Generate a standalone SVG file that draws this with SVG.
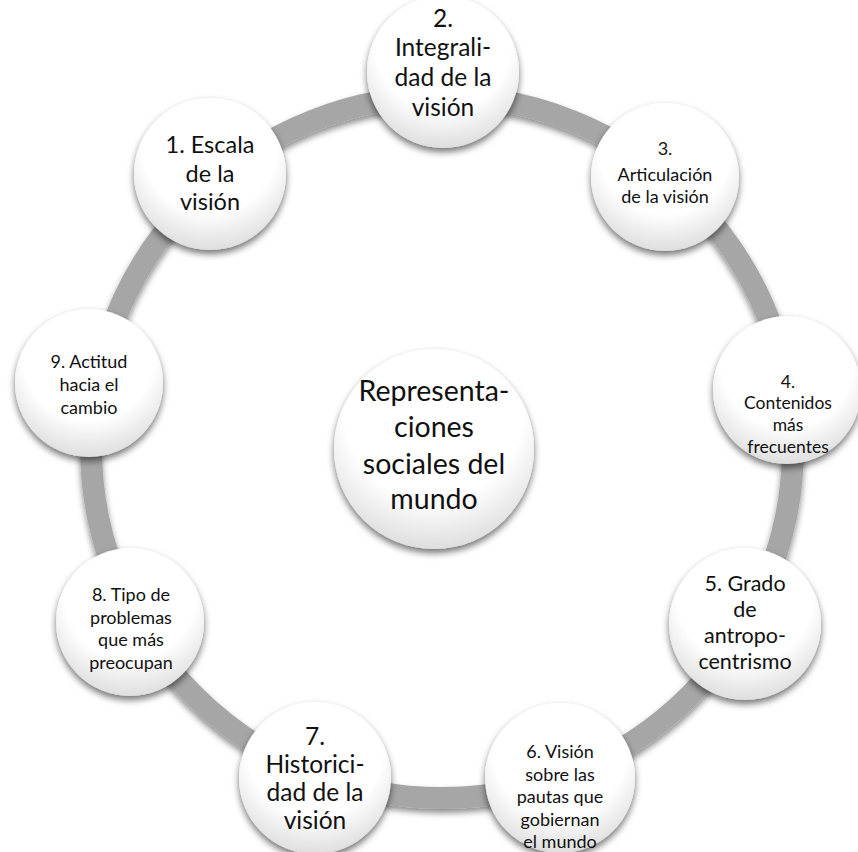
<svg xmlns="http://www.w3.org/2000/svg" width="858" height="852" viewBox="0 0 858 852">
<defs>
<radialGradient id="nodeFill" cx="50%" cy="32%" r="72%" fx="50%" fy="28%">
<stop offset="0" stop-color="#ffffff"/>
<stop offset="0.62" stop-color="#ffffff"/>
<stop offset="1" stop-color="#d9d9d9"/>
</radialGradient>
<filter id="shadow" x="-30%" y="-30%" width="160%" height="170%">
<feDropShadow dx="0" dy="4" stdDeviation="3.5" flood-color="#000" flood-opacity="0.55"/>
</filter>
<filter id="ringShadow" x="-10%" y="-10%" width="120%" height="125%">
<feDropShadow dx="0" dy="4" stdDeviation="3" flood-color="#000" flood-opacity="0.45"/>
</filter>
</defs>
<style>
.node circle{fill:url(#nodeFill);filter:url(#shadow);}
text{font-family:Lato,"Liberation Sans",sans-serif;fill:#111;text-anchor:middle;}
</style>
<rect width="858" height="852" fill="#ffffff"/>
<g id="connectors">
<circle cx="442" cy="447" r="351" fill="none" stroke="#a6a6a6" stroke-width="22" filter="url(#ringShadow)"/>
</g>
<g id="center" class="node">
<circle cx="434" cy="449" r="100"/>
<text font-size="28.5"><tspan x="434" y="401">Representa-</tspan><tspan x="434" y="437">ciones</tspan><tspan x="434" y="474">sociales del</tspan><tspan x="434" y="509">mundo</tspan></text>
</g>
<g id="n1" class="node">
<circle cx="210" cy="174" r="76"/>
<text font-size="23.5"><tspan x="210" y="153">1. Escala</tspan><tspan x="210" y="181.5">de la</tspan><tspan x="210" y="210">visión</tspan></text>
</g>
<g id="n2" class="node">
<circle cx="443" cy="72" r="76"/>
<text font-size="24.5"><tspan x="443" y="27">2.</tspan><tspan x="443" y="56">Integrali-</tspan><tspan x="443" y="86">dad de la</tspan><tspan x="443" y="116">visión</tspan></text>
</g>
<g id="n3" class="node">
<circle cx="665" cy="177" r="74"/>
<text font-size="18"><tspan x="665" y="155">3.</tspan><tspan x="665" y="181">Articulación</tspan><tspan x="665" y="203">de la visión</tspan></text>
</g>
<g id="n4" class="node">
<circle cx="787" cy="390" r="74"/>
<text font-size="17.5"><tspan x="788" y="388">4.</tspan><tspan x="788" y="409">Contenidos</tspan><tspan x="788" y="431">más</tspan><tspan x="788" y="453">frecuentes</tspan></text>
</g>
<g id="n5" class="node">
<circle cx="745" cy="624" r="76"/>
<text font-size="21.5"><tspan x="745" y="591">5. Grado</tspan><tspan x="745" y="617">de</tspan><tspan x="745" y="643">antropo-</tspan><tspan x="745" y="669">centrismo</tspan></text>
</g>
<g id="n6" class="node">
<circle cx="560" cy="778" r="75"/>
<text font-size="18"><tspan x="560" y="758">6. Visión</tspan><tspan x="560" y="780.5">sobre las</tspan><tspan x="560" y="803">pautas que</tspan><tspan x="560" y="825.5">gobiernan</tspan><tspan x="560" y="848">el mundo</tspan></text>
</g>
<g id="n7" class="node">
<circle cx="315" cy="778" r="76"/>
<text font-size="24.5"><tspan x="315" y="745">7.</tspan><tspan x="315" y="773">Historici-</tspan><tspan x="315" y="801">dad de la</tspan><tspan x="315" y="829">visión</tspan></text>
</g>
<g id="n8" class="node">
<circle cx="130" cy="622" r="74"/>
<text font-size="18"><tspan x="131" y="601">8. Tipo de</tspan><tspan x="131" y="623.5">problemas</tspan><tspan x="131" y="646">que más</tspan><tspan x="131" y="668.5">preocupan</tspan></text>
</g>
<g id="n9" class="node">
<circle cx="89" cy="383" r="74"/>
<text font-size="18"><tspan x="89" y="368">9. Actitud</tspan><tspan x="89" y="391">hacia el</tspan><tspan x="89" y="414">cambio</tspan></text>
</g>
</svg>
